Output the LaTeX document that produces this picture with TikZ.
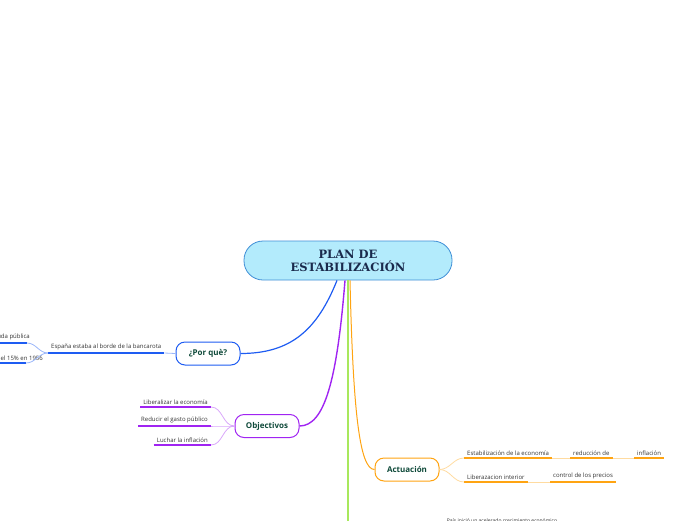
\documentclass[tikz,border=0pt]{standalone}
\usepackage{fontspec}
\setmainfont{Open Sans}
\newfontfamily\titlefont{DejaVu Serif}
\usepackage{tikz}
\usetikzlibrary{positioning, calc}
\definecolor{titlefill}{HTML}{B3EBFC}
\definecolor{titleline}{HTML}{3F8ED6}
\definecolor{titletext}{HTML}{1A2A4C}
\definecolor{labeltext}{HTML}{0F4A3A}
\definecolor{leaftext}{HTML}{333333}
\definecolor{bluebr}{HTML}{1E5CF2}
\colorlet{bluethin}{bluebr!45}
\definecolor{purplebr}{HTML}{A024F2}
\colorlet{purplethin}{purplebr!40}
\definecolor{orangebr}{HTML}{FFA412}
\colorlet{orangethin}{orangebr!40}
\definecolor{greenbr}{HTML}{A8E85C}

\begin{document}
\begin{tikzpicture}[x=1pt, y=-1pt,
    branch/.style={draw=#1, fill=white, rounded corners=9pt, line width=1pt, minimum width=64pt, minimum height=23pt, font=\fontsize{8}{9}\selectfont\bfseries, text=labeltext},
    leafl/.style={font=\fontsize{6}{7}\selectfont, text=leaftext, inner xsep=3pt, inner ysep=2.5pt, anchor=south west},
    leafr/.style={leafl, anchor=south east},
    under/.style={line width=2pt, #1},
    thin/.style={line width=0.8pt, #1}]
    \useasboundingbox (0,0) rectangle (696,520);

    % main topic
    \node[draw=titleline, fill=titlefill, rounded corners=19pt, line width=0.8pt, minimum width=208pt, minimum height=39pt, align=center, text=titletext, font=\titlefont\bfseries\fontsize{11.5}{13}\selectfont] (plan) at (348,260.5) {PLAN DE\\ESTABILIZACIÓN};

    \node[branch=bluebr] (porque) at (208,353.5) {¿Por què?};
    \node[branch=purplebr] (objetivos) at (267,426) {Objectivos};
    \node[branch=orangebr] (actuacion) at (407,469.5) {Actuación};
    \coordinate (abajo) at (348,540);

    \draw[greenbr, line width=2pt] (plan.south) -- (abajo);
    \draw[bluebr, line width=1.2pt] ($(plan.south)+(-11,0)$) .. controls +(-20,50) and +(50,0) .. (porque.east);
    \draw[purplebr, line width=1.4pt] ($(plan.south)+(-3,0)$) .. controls +(-8,100) and +(25,0) .. (objetivos.west -| objetivos.east);
    \draw[orangebr, line width=1pt] ($(plan.south)+(2,0)$) .. controls +(3,130) and +(-15,0) .. (actuacion.west);

    % por que
    \node[leafl] (espana) at (48,353) {España estaba al borde de la bancarota};
    \node[leafr] (deuda) at (33,343) {Deuda pública};
    \node[leafr] (inflacion) at (46,363) {Inflación del 15\% en 1956};
    \draw[under=bluebr] (espana.south west) -- (espana.south east);
    \draw[under=bluebr] (deuda.south west) -- ($(deuda.south east)+(-6,0)$);
    \draw[under=bluebr] (inflacion.south west) -- ($(inflacion.south east)+(-20,0)$);
    \draw[thin=bluethin] (espana.south east) -- (porque.west);
    \draw[thin=bluethin] ($(deuda.south east)+(-6,0)$) to[out=0, in=180] (espana.south west);
    \draw[thin=bluethin] ($(inflacion.south east)+(-20,0)$) to[out=0, in=180] (espana.south west);

    % objetivos
    \node[leafr] (liberalizar) at (211,407) {Liberalizar la economía};
    \node[leafr] (reducir) at (211,426) {Reducir el gasto público};
    \node[leafr] (luchar) at (211,445) {Luchar la inflación};
    \foreach \n in {liberalizar, reducir, luchar} {
      \draw[under=purplebr] (\n.south west) -- (\n.south east);
      \draw[thin=purplethin] (\n.south east) to[out=0, in=180] (objetivos.west);
    }

    % actuacion
    \node[leafl] (estab) at (464,458) {Estabilización de la economía};
    \node[leafl] (reduccion) at (570,458) {reducción de};
    \node[leafl] (inflacion2) at (634,458) {inflación};
    \node[leafl] (liberaz) at (464,482) {Liberazacion interior};
    \node[leafl] (control) at (550,482) {control de los precios};
    \foreach \n in {estab, reduccion, inflacion2, liberaz, control}
      \draw[under=orangebr] (\n.south west) -- (\n.south east);
    \draw[thin=orangethin] (actuacion.east) to[out=0, in=180] (estab.south west);
    \draw[thin=orangethin] (actuacion.east) to[out=0, in=180] (liberaz.south west);
    \draw[thin=orangethin] (estab.south east) -- (reduccion.south west);
    \draw[thin=orangethin] (reduccion.south east) -- (inflacion2.south west);
    \draw[thin=orangethin] (liberaz.south east) -- (control.south west);

    \node[font=\fontsize{5}{6}\selectfont, text=leaftext, inner sep=0pt, anchor=north] (pais) at (502,518.5) {País inició un acelerado crecimiento económico};
  \end{tikzpicture}
\end{document}
